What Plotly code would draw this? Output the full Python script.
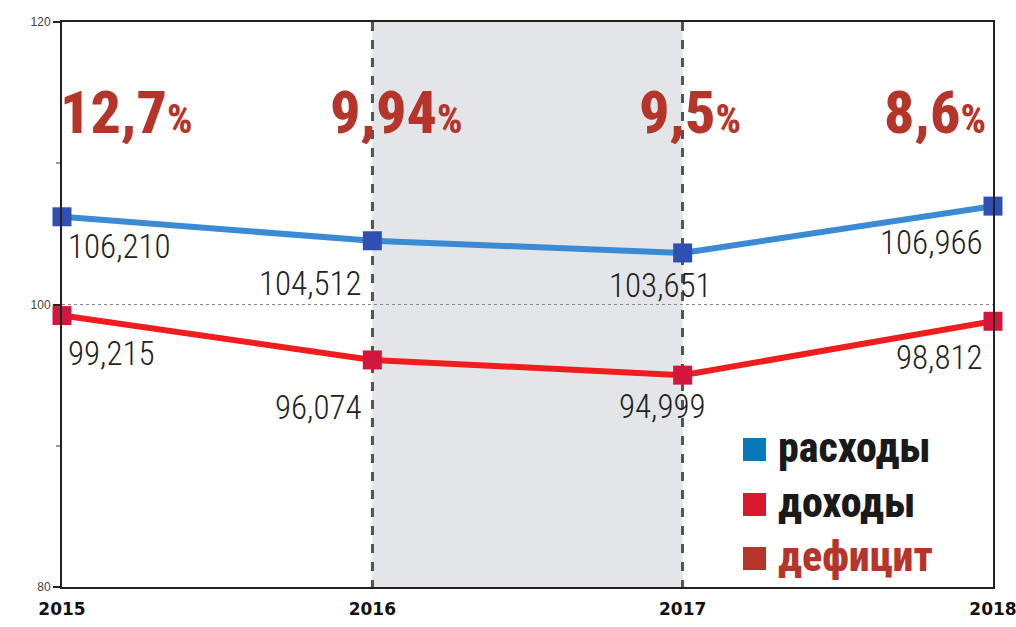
import plotly.graph_objects as go

years = [2015, 2016, 2017, 2018]
expenses = [106.210, 104.512, 103.651, 106.966]
incomes = [99.215, 96.074, 94.999, 98.812]
expense_labels = ["106,210", "104,512", "103,651", "106,966"]
income_labels = ["99,215", "96,074", "94,999", "98,812"]
deficit_labels = ["12,7", "9,94", "9,5", "8,6"]
legend_names = ["расходы", "доходы", "дефицит"]
y_ticks = [80, 100, 120]

COND = "Roboto Condensed, Open Sans Condensed, sans-serif"
DEF_RED = "#b5352b"

# body margin removed in the page, figure placed at (0,0)
W, H = 1016, 627
L, R, T, B = 62, 23, 22, 40
PW, PH = W - L - R, H - T - B

def px_x(x):  # page x -> paper
    return (x - L) / PW

def px_y(y):  # page y -> paper
    return 1 - (y - T) / PH

fig = go.Figure()

fig.add_trace(go.Scatter(
    x=years, y=expenses, mode="lines+markers", cliponaxis=False,
    line=dict(color="#3a8bd3", width=6),
    marker=dict(symbol="square", size=19, color="#2f4fb3"),
    showlegend=False, hoverinfo="skip"))
fig.add_trace(go.Scatter(
    x=years, y=incomes, mode="lines+markers", cliponaxis=False,
    line=dict(color="#ef1d1d", width=6),
    marker=dict(symbol="square", size=19, color="#d3163d"),
    showlegend=False, hoverinfo="skip"))

# shaded band 2016-2017
fig.add_shape(type="rect", xref="x", yref="y", x0=years[1], x1=years[2], y0=80, y1=120,
              fillcolor="#e4e5e9", line_width=0, layer="below")

ann = []
# data labels
exp_pos = [("left", 4, -30), ("right", -8, -43), ("center", -22, -33), ("right", -8, -36)]
inc_pos = [("left", 4, -38), ("right", -8, -48), ("center", -20, -31), ("right", -8, -36)]
for i, yr in enumerate(years):
    a, xs, ys = exp_pos[i]
    ann.append(dict(x=yr, y=expenses[i], text=expense_labels[i], showarrow=False,
                    xanchor=a, yanchor="middle", xshift=xs, yshift=ys,
                    font=dict(family=COND, size=33, weight=300, color="#222222")))
    a, xs, ys = inc_pos[i]
    ann.append(dict(x=yr, y=incomes[i], text=income_labels[i], showarrow=False,
                    xanchor=a, yanchor="middle", xshift=xs, yshift=ys,
                    font=dict(family=COND, size=33, weight=300, color="#222222")))

# deficit percentages
def_pos = [("left", -4), ("center", 24), ("center", 7), ("right", -5)]
for i, yr in enumerate(years):
    a, xs = def_pos[i]
    ann.append(dict(x=yr, y=113.6, text=f"{deficit_labels[i]}<span style='font-size:40px'>%</span>",
                    showarrow=False, xanchor=a, yanchor="middle", xshift=xs,
                    font=dict(family=COND, size=60, weight=800, color=DEF_RED)))

# legend
leg_colors = ["#0a78b8", "#d9182e", "#b5352a"]
leg_text_colors = ["#1a1a1a", "#1a1a1a", DEF_RED]
leg_y = [449.5, 504.5, 558.5]
for i, name in enumerate(legend_names):
    yc = px_y(leg_y[i])
    ann.append(dict(xref="paper", yref="paper", x=px_x(776), y=yc,
                    text=name, showarrow=False, xanchor="left", yanchor="middle",
                    yshift=2,
                    font=dict(family=COND, size=42, weight=800, color=leg_text_colors[i])))
    fig.add_shape(type="rect", xref="paper", yref="paper",
                  x0=px_x(743), x1=px_x(766),
                  y0=yc - 11.5 / PH, y1=yc + 11.5 / PH,
                  fillcolor=leg_colors[i], line_width=0, layer="above")

fig.update_layout(
    width=W, height=H,
    margin=dict(l=L, r=R, t=T, b=B, autoexpand=False),
    paper_bgcolor="white", plot_bgcolor="white",
    annotations=ann,
    xaxis=dict(range=[2015, 2018], tickvals=years, ticktext=[f"<b>{y}</b>" for y in years],
               showgrid=True, gridcolor="#555555", gridwidth=2.5, griddash="dash",
               showline=True, linecolor="#222222", linewidth=2, mirror=True,
               ticks="", tickfont=dict(family="DejaVu Sans", size=17, color="#111111"),
               ticklabeloverflow="allow", ticklabelstandoff=6, automargin=False,
               zeroline=False, fixedrange=True),
    yaxis=dict(range=[80, 120], tickvals=y_ticks, showgrid=True, gridcolor="#888888",
               gridwidth=1, griddash="dot",
               showline=True, linecolor="#222222", linewidth=2, mirror=True,
               ticks="outside", ticklen=7, tickwidth=2, tickcolor="#222222",
               minor=dict(dtick=10, ticks="outside", ticklen=4, tickcolor="#999999", showgrid=False),
               tickfont=dict(family="Liberation Sans, Arial, sans-serif", size=12, color="#444444"),
               automargin=False, zeroline=False, fixedrange=True),
)

fig.write_html("out.html", config={"displayModeBar": False},
               post_script="document.body.style.margin='0';document.body.style.overflow='hidden';")
